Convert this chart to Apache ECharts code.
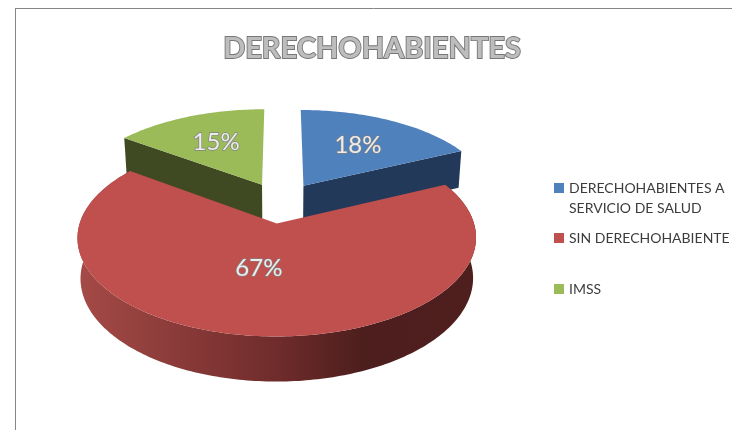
<!DOCTYPE html>
<html>
<head>
<meta charset="utf-8">
<style>html,body{margin:0;padding:0;background:#fff}#c{width:732px;height:430px}</style>
<script src="https://cdn.jsdelivr.net/npm/echarts@6/dist/echarts.min.js"></script>
</head>
<body>
<div id="c"></div>
<script>
const categories = ['DERECHOHABIENTES A SERVICIO DE SALUD', 'SIN DERECHOHABIENTE', 'IMSS'];
const values = [18, 67, 15];
const topColors = ['#4f81bd', '#c0504d', '#9bbb59'];
const title = 'DERECHOHABIENTES';

const chart = echarts.init(document.getElementById('c'), null, {renderer: 'canvas'});
const total = values.reduce((a, b) => a + b, 0);
const P = {cx: 281, cy: 202.5, A: 191, B: 90.7, k: 0.14, D: 39, shrink: 0.015, explode: 0.225};
const sideColors = ['#22395a', null, '#3f4a22'];
const labelF = [0.6, 0.44, 0.6];
const labelShift = [0, -9, 0];

function project(u, v, z) {
  const s = 1 / (1 - P.k * v);
  const f = 1 - P.shrink * z;
  return [P.cx + P.A * u * s * f, P.cy + P.B * v * s * f + P.D * s * z];
}
function sliceRender(i) {
  return function (params, api) {
    const value = api.value(0);
    const before = values.slice(0, i).reduce((a, b) => a + b, 0);
    const a0 = before / total * Math.PI * 2;
    const a1 = a0 + value / total * Math.PI * 2;
    const mid = (a0 + a1) / 2;
    const ou = P.explode * Math.sin(mid), ov = -P.explode * Math.cos(mid);
    const pt = (a, r, z) => project(ou + r * Math.sin(a), ov - r * Math.cos(a), z);
    const arc = (z) => {
      const out = [];
      const n = Math.ceil((a1 - a0) / (Math.PI / 180));
      for (let j = 0; j <= n; j++) out.push(pt(a0 + (a1 - a0) * j / n, 1, z));
      return out;
    };
    const z2 = i === 1 ? 10 : 1;
    const children = [];
    if (i === 1) {
      children.push({
        type: 'polygon', z2: z2,
        shape: {points: arc(0).concat(arc(1).reverse())},
        style: {fill: {type: 'linear', x: 0, y: 0, x2: 1, y2: 0, colorStops: [
          {offset: 0, color: '#a54a47'},
          {offset: 0.5, color: '#6f2c2b'},
          {offset: 0.72, color: '#4c1e1d'},
          {offset: 1, color: '#4f1f1e'}
        ]}}
      });
    } else {
      const edge = i === 0 ? a1 : a0;
      children.push({
        type: 'polygon', z2: z2,
        shape: {points: [pt(edge, 0, 0), pt(edge, 1, 0), pt(edge, 1, 1), pt(edge, 0, 1)]},
        style: {fill: sideColors[i]}
      });
    }
    children.push({
      type: 'polygon', z2: z2 + 1,
      shape: {points: [pt(a0, 0, 0)].concat(arc(0))},
      style: {fill: topColors[i]}
    });
    const lp = pt(mid, labelF[i], 0);
    children.push({
      type: 'text', z2: 30,
      style: {
        text: value + '%', x: lp[0] + labelShift[i], y: lp[1],
        fill: '#ececec', stroke: '#808080', lineWidth: 1.4,
        font: '24px Lato', align: 'center', verticalAlign: 'middle'
      }
    });
    return {type: 'group', children: children};
  };
}

const legendTops = [158, 228, 279];
const legendLabels = ['\nDERECHOHABIENTES A\nSERVICIO DE SALUD', 'SIN DERECHOHABIENTE', 'IMSS'];
chart.setOption({
  animation: false,
  backgroundColor: '#ffffff',
  title: {
    text: title, left: 367, top: 29, textAlign: 'center',
    textStyle: {
      fontFamily: 'Lato', fontWeight: 'bold', fontSize: 29,
      color: '#bdbdbd',
      textBorderColor: '#777777', textBorderWidth: 1.8
    }
  },
  legend: categories.map((c, i) => ({
    data: [c], orient: 'vertical', left: 554, top: legendTops[i],
    icon: 'rect', itemWidth: 10, itemHeight: 10, itemGap: 0, padding: 0, selectedMode: false,
    formatter: () => legendLabels[i],
    textStyle: {fontFamily: 'Lato', fontSize: 14, color: '#3c3c3c', lineHeight: 20}
  })),
  graphic: [
    {type: 'line', shape: {x1: 15, y1: 8.5, x2: 732, y2: 8.5}, style: {stroke: '#868686', lineWidth: 1}},
    {type: 'line', shape: {x1: 15.5, y1: 8, x2: 15.5, y2: 430}, style: {stroke: '#868686', lineWidth: 1}}
  ],
  series: categories.map((c, i) => ({
    type: 'custom', name: c, coordinateSystem: 'none',
    itemStyle: {color: topColors[i]},
    renderItem: sliceRender(i),
    data: [[values[i]]]
  }))
});
</script>
</body>
</html>
